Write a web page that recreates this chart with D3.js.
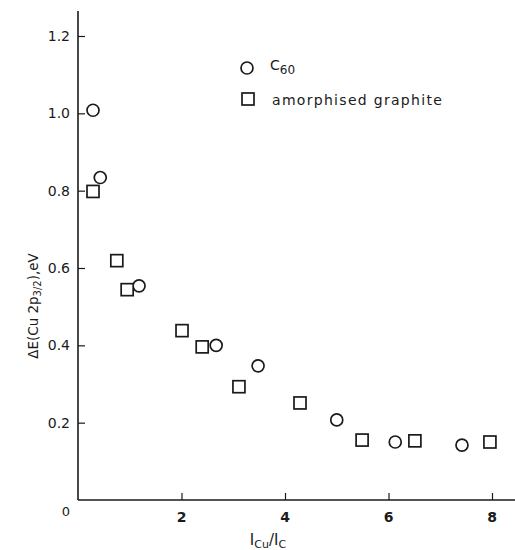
<!DOCTYPE html>
<html><head><meta charset="utf-8">
<script src="https://cdn.jsdelivr.net/npm/d3@7"></script>
<style>body{margin:0;background:#fff}svg{display:block}text{font-family:"DejaVu Sans",sans-serif;fill:#1a1a1a}</style>
</head><body><svg id="c" width="515" height="550"></svg>
<script>
const c60X = [0.29, 0.43, 1.18, 2.67, 3.48, 5.0, 6.13, 7.42];
const c60Y = [1.008, 0.834, 0.554, 0.40, 0.347, 0.207, 0.150, 0.142];
const graphX = [0.29, 0.75, 0.95, 2.01, 2.40, 3.11, 4.29, 5.49, 6.51, 7.96];
const graphY = [0.798, 0.619, 0.544, 0.438, 0.396, 0.293, 0.251, 0.155, 0.153, 0.150];
const xTicks = [2, 4, 6, 8];
const yTicks = [0.2, 0.4, 0.6, 0.8, 1.0, 1.2];
const yTickLabels = ["0.2", "0.4", "0.6", "0.8", "1.0", "1.2"];
const legendLabels = ["C60", "amorphised graphite"];

const svg = d3.select("#c");
const x = d3.scaleLinear().domain([0, 8]).range([78, 492]);
const y = d3.scaleLinear().domain([0, 1.2]).range([500, 36]);
const ink = "#1a1a1a";

// axes
svg.append("line").attr("x1", x(0)).attr("x2", x(0)).attr("y1", 11).attr("y2", y(0))
  .attr("stroke", ink).attr("stroke-width", 1.6);
svg.append("line").attr("x1", x(0)).attr("x2", 515).attr("y1", y(0)).attr("y2", y(0))
  .attr("stroke", ink).attr("stroke-width", 1.6);

const yAxis = d3.axisRight(y).tickValues(yTicks).tickSize(7).tickFormat("");
svg.append("g").attr("transform", `translate(${x(0)},0)`).call(yAxis)
  .call(g => g.select(".domain").remove())
  .call(g => g.selectAll("line").attr("stroke", ink).attr("stroke-width", 1.2));
svg.selectAll(".ylab").data(yTicks).enter().append("text")
  .attr("x", 70).attr("y", d => y(d) + 5).attr("text-anchor", "end")
  .attr("font-size", 14).text((d, i) => yTickLabels[i]);

const xAxis = d3.axisTop(x).tickValues(xTicks).tickSize(7).tickFormat("");
svg.append("g").attr("transform", `translate(0,${y(0)})`).call(xAxis)
  .call(g => g.select(".domain").remove())
  .call(g => g.selectAll("line").attr("stroke", ink).attr("stroke-width", 1.2));
svg.selectAll(".xlab").data(xTicks).enter().append("text")
  .attr("x", d => x(d)).attr("y", 522).attr("text-anchor", "middle")
  .attr("font-size", 14).attr("font-weight", "bold").text(d => d);
svg.append("text").attr("x", 66).attr("y", 516).attr("text-anchor", "middle")
  .attr("font-size", 13).text("0");

// axis titles
const xt = svg.append("text").attr("x", 268).attr("y", 545).attr("text-anchor", "middle").attr("font-size", 15);
xt.append("tspan").text("I");
xt.append("tspan").attr("font-size", 11).attr("dy", 3).text("Cu");
xt.append("tspan").attr("dy", -3).text("/I");
xt.append("tspan").attr("font-size", 11).attr("dy", 3).text("C");

const yt = svg.append("text").attr("transform", "translate(38,306) rotate(-90)")
  .attr("text-anchor", "middle").attr("font-size", 13.5);
yt.append("tspan").text("ΔE(Cu 2p");
yt.append("tspan").attr("font-size", 10).attr("dy", 3).text("3/2");
yt.append("tspan").attr("dy", -3).text("),eV");

// markers
const r = 6;
svg.selectAll(".c60").data(c60X).enter().append("circle")
  .attr("cx", d => x(d)).attr("cy", (d, i) => y(c60Y[i])).attr("r", r)
  .attr("fill", "#fff").attr("stroke", ink).attr("stroke-width", 1.7);
svg.selectAll(".gr").data(graphX).enter().append("rect")
  .attr("x", d => x(d) - 6).attr("y", (d, i) => y(graphY[i]) - 6)
  .attr("width", 12).attr("height", 12)
  .attr("fill", "#fff").attr("stroke", ink).attr("stroke-width", 1.7);

// legend
svg.append("circle").attr("cx", 247).attr("cy", 68).attr("r", r)
  .attr("fill", "#fff").attr("stroke", ink).attr("stroke-width", 1.7);
svg.append("rect").attr("x", 242).attr("y", 93).attr("width", 12).attr("height", 12)
  .attr("fill", "#fff").attr("stroke", ink).attr("stroke-width", 1.7);
const l1 = svg.append("text").attr("x", 270).attr("y", 70).attr("font-size", 14);
l1.append("tspan").text(legendLabels[0].slice(0, 1));
l1.append("tspan").attr("dy", 4).attr("font-size", 12).text(legendLabels[0].slice(1));
svg.append("text").attr("x", 272).attr("y", 105).attr("font-size", 14)
  .attr("letter-spacing", 1.3).text(legendLabels[1]);
</script></body></html>
